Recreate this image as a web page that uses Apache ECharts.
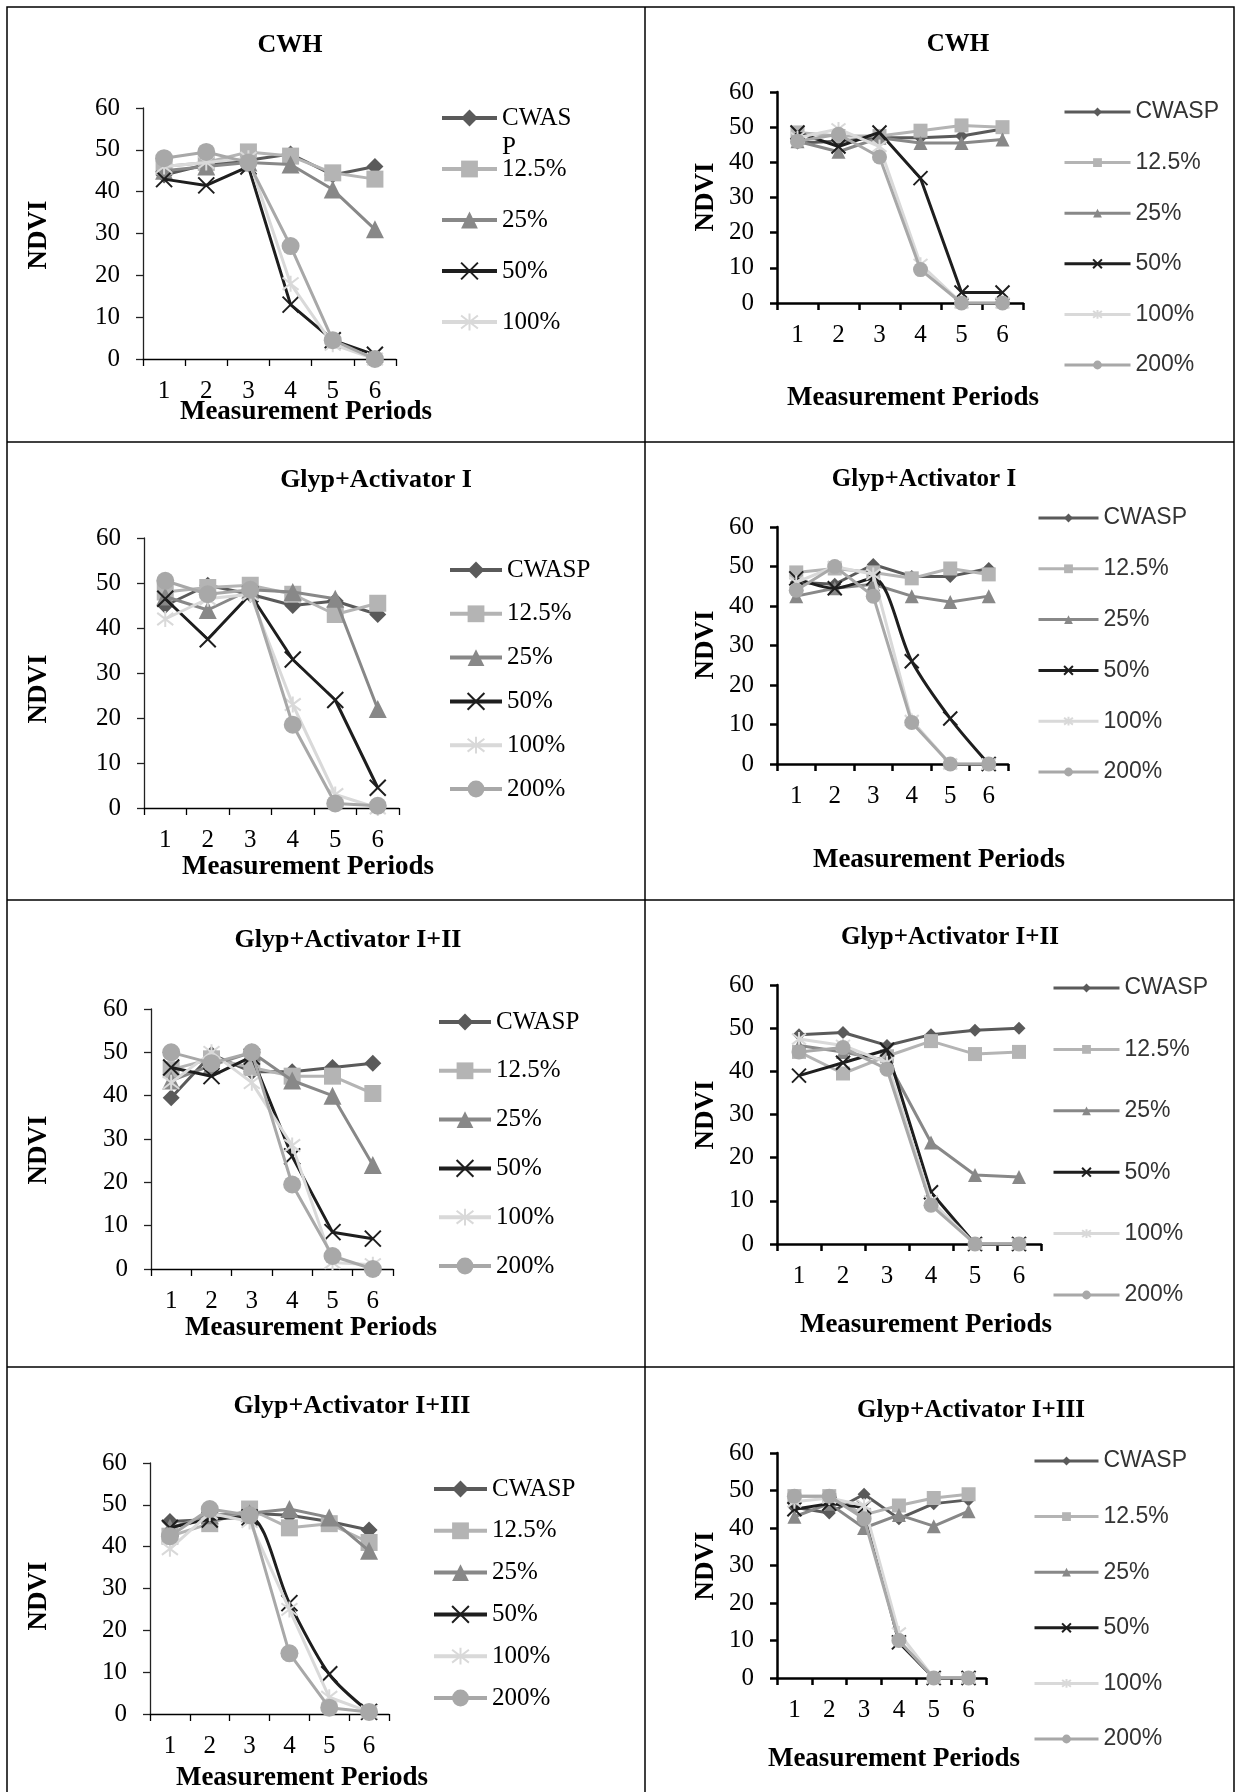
<!DOCTYPE html>
<html><head><meta charset="utf-8">
<script src="https://cdn.jsdelivr.net/npm/echarts@6/dist/echarts.min.js"></script>
<style>html,body{margin:0;padding:0;background:#fff}#c{width:1236px;height:1792px}</style>
</head><body><div id="c"></div>
<script>
// ---------- DATA ----------
const periods = ['1', '2', '3', '4', '5', '6'];
const treatments = ['CWASP', '12.5%', '25%', '50%', '100%', '200%'];
const panelTitles = ['CWH', 'CWH', 'Glyp+Activator I', 'Glyp+Activator I',
  'Glyp+Activator I+II', 'Glyp+Activator I+II', 'Glyp+Activator I+III', 'Glyp+Activator I+III'];
const xAxisName = 'Measurement Periods';
const yAxisName = 'NDVI';

// rows: CWASP, 12.5%, 25%, 50%, 100%, 200%
const cwhLeft = [
  [44, 46.5, 47.5, 49, 44, 46],
  [46, 47, 49.5, 48.5, 44.5, 43],
  [45, 46, 47, 46.5, 40.5, 31],
  [43, 41.5, 46, 13, 4.5, 1],
  [46, 47, 48, 18, 3.5, 0],
  [48, 49.5, 47, 27, 4.5, 0]
];
const cwhRight = [
  [45.5, 46, 47, 47, 47.5, 49.5],
  [48.5, 47.5, 47.5, 49, 50.5, 50],
  [46, 43, 47, 45.5, 45.5, 46.5],
  [48.5, 44.5, 48.5, 35.5, 3, 3],
  [47, 49.5, 44.5, 11, 0, 0],
  [46, 48, 41.5, 9.5, 0, 0]
];
const actILeft = [
  [45, 49.5, 47.5, 45, 46, 43],
  [48, 49, 49.5, 47.5, 43, 45.5],
  [47, 44, 48.5, 48, 46.5, 22],
  [46.5, 37.5, 47.5, 33, 24, 4.5],
  [42, 46.5, 47.5, 23, 3, 0],
  [50.5, 47.5, 48.5, 18.5, 1, 0.5]
];
const actIRight = [
  [46, 45.5, 50.5, 47.5, 47.5, 49.5],
  [48.5, 49.5, 48.5, 47, 49.5, 48],
  [42.5, 44.5, 45.5, 42.5, 41, 42.5],
  [47, 44.5, 47, 26, 11.5, 0],
  [46, 50, 48, 11, 0, 0],
  [44, 50, 42.5, 10.5, 0, 0]
];
const actIIILeft = [
  [39.5, 49.5, 45.5, 45.5, 46.5, 47.5],
  [46, 48.5, 46.5, 44.5, 44.5, 40.5],
  [43.5, 47, 50, 43.5, 40, 24],
  [46.5, 44.5, 49, 26, 8.5, 7],
  [43, 50, 43, 28.5, 1.5, 1],
  [50, 47.5, 50, 19.5, 3, 0]
];
const actIIIRight = [
  [48.5, 49, 46, 48.5, 49.5, 50],
  [44.5, 39.5, 43.5, 47, 44, 44.5],
  [46, 44.5, 42.5, 23.5, 16, 15.5],
  [39, 42, 45, 12, 0, 0],
  [47.5, 46, 42, 10, 0, 0],
  [44.5, 45.5, 40.5, 9, 0, 0]
];
const actI3Left = [
  [46, 46.5, 48, 47.5, 46, 44],
  [42.5, 45.5, 49, 44.5, 45.5, 41],
  [44.5, 47.5, 48, 49, 47, 39],
  [44.5, 46.5, 47, 26.5, 9.5, 0.5],
  [39.5, 48, 46, 25, 4, 0.5],
  [42.5, 49, 47.5, 14.5, 1.5, 0.5]
];
const actI3Right = [
  [45.5, 44, 49, 42.5, 46.5, 47.5],
  [48.5, 48.5, 43.5, 46, 48, 49],
  [43, 46.5, 40, 43.5, 40.5, 44.5],
  [45, 46.5, 45.5, 9.5, 0, 0],
  [47, 48, 46, 12, 0, 0],
  [48.5, 48.5, 42.5, 10, 0, 0]
];
const panelData = [cwhLeft, cwhRight, actILeft, actIRight, actIIILeft, actIIIRight, actI3Left, actI3Right];

// ---------- STYLE / LAYOUT ----------
const colors = ['#5a5a5a', '#b4b4b4', '#888888', '#1e1e1e', '#d9d9d9', '#a8a8a8'];
const symbols = ['diamond', 'rect', 'triangle',
  'path://M0,0L10,10M10,0L0,10',
  'path://M0,0L10,10M10,0L0,10M5,-1.5L5,11.5',
  'circle'];
const strokeOnly = [false, false, false, true, true, false];
const symSize = { L: [17, 17, 18, 16, 16, 18], R: [13, 14, 14, 14, 14, 15] };
const serif = '"Liberation Serif", "Times New Roman", serif';
const sans = '"Liberation Sans", Arial, sans-serif';

// grid: [left, top, right, bottom]
const layout = [
  { side: 'L', grid: [143, 108, 396, 359], title: [290, 45], ndvi: [39, 235], mp: [306, 412], lg: [440, 55, 118, 51] },
  { side: 'R', grid: [777, 92, 1023, 303], title: [958, 45], ndvi: [706, 197], mp: [913, 398], lg: [1063, 66, 112, 50.6] },
  { side: 'L', grid: [144, 538, 399, 808], title: [376, 480], ndvi: [39, 689], mp: [308, 867], lg: [448, 52, 570, 43.8] },
  { side: 'R', grid: [777, 527, 1008, 764], title: [924, 480], ndvi: [706, 645], mp: [939, 860], lg: [1037, 60, 518, 50.8] },
  { side: 'L', grid: [151, 1009, 393, 1269], title: [348, 940], ndvi: [39, 1150], mp: [311, 1328], lg: [437, 52, 1022, 48.8] },
  { side: 'R', grid: [777, 985, 1041, 1244], title: [950, 938], ndvi: [706, 1115], mp: [926, 1325], lg: [1052, 66, 988, 61.4] },
  { side: 'L', grid: [150, 1463, 389, 1714], title: [352, 1406], ndvi: [39, 1596], mp: [302, 1778], lg: [432, 53, 1489, 41.8] },
  { side: 'R', grid: [777, 1453, 986, 1678], title: [971, 1411], ndvi: [706, 1566], mp: [894, 1759], lg: [1033, 64, 1461, 55.6] }
];
const smoothed = { 3: [3], 6: [3] };

const grids = [], xAxes = [], yAxes = [], series = [], legends = [], graphics = [];

// table frame
const frame = { stroke: '#000', lineWidth: 1.5 };
graphics.push({ type: 'rect', silent: true, shape: { x: 7, y: 7, width: 1227, height: 1800 }, style: Object.assign({ fill: 'none' }, frame) });
graphics.push({ type: 'line', silent: true, shape: { x1: 645, y1: 7, x2: 645, y2: 1792 }, style: frame });
[442, 900, 1367].forEach(y => graphics.push({ type: 'line', silent: true, shape: { x1: 7, y1: y, x2: 1234, y2: y }, style: frame }));

layout.forEach((L, p) => {
  const isL = L.side === 'L';
  const [gl, gt, gr, gb] = L.grid;
  grids.push({ left: gl, top: gt, width: gr - gl, height: gb - gt, containLabel: false, outerBoundsMode: 'none' });
  const axW = isL ? 1.3 : 2.5;
  xAxes.push({
    type: 'category', gridIndex: p, data: periods, boundaryGap: true,
    axisLine: { show: true, lineStyle: { color: '#000', width: axW } },
    axisTick: { show: true, length: 7, inside: false, alignWithLabel: false, lineStyle: { color: '#000', width: axW } },
    axisLabel: { fontFamily: serif, fontSize: 25, color: '#000', margin: 20 },
    splitLine: { show: false }
  });
  yAxes.push({
    type: 'value', gridIndex: p, min: 0, max: 60, interval: 10,
    axisLine: { show: true, lineStyle: { color: isL ? '#222' : '#000', width: axW } },
    axisTick: { show: true, length: 7, inside: false, lineStyle: { color: isL ? '#222' : '#000', width: axW } },
    axisLabel: { fontFamily: serif, fontSize: 25, color: '#000', margin: 23 },
    splitLine: { show: false }
  });
  panelData[p].forEach((vals, k) => {
    series.push({
      type: 'line', name: treatments[k], xAxisIndex: p, yAxisIndex: p, data: vals,
      symbol: symbols[k], symbolSize: symSize[L.side][k], showSymbol: true,
      smooth: (smoothed[p] && smoothed[p].indexOf(k) >= 0) ? 0.3 : false,
      lineStyle: { color: colors[k], width: 3 },
      itemStyle: { color: colors[k], borderColor: colors[k], borderWidth: strokeOnly[k] ? 2 : 0 },
      emphasis: { disabled: true }, animation: false, z: 2 + k
    });
  });
  // legend
  const [lx, iw, firstY, spacing] = L.lg;
  const ih = isL ? 21 : 11;
  const lh = isL ? 25 : 23;
  const tStyle = { fontFamily: isL ? serif : sans, fontSize: isL ? 25 : 23, color: isL ? '#000' : '#333', lineHeight: lh };
  const base = {
    orient: 'vertical', left: lx, itemWidth: iw, itemHeight: ih, padding: 0, selectedMode: false,
    lineStyle: { width: isL ? 4 : 3 }, textStyle: tStyle
  };
  if (p === 0) {
    const lh2 = 29;
    legends.push(Object.assign({}, base, {
      top: firstY - 1.5 * lh2, data: ['CWASP'],
      formatter: () => ' \nCWAS\nP',
      textStyle: Object.assign({}, tStyle, { lineHeight: lh2 })
    }));
    legends.push(Object.assign({}, base, {
      top: firstY + spacing - lh / 2, data: treatments.slice(1, 5), itemGap: spacing - lh
    }));
  } else {
    legends.push(Object.assign({}, base, {
      top: firstY - lh / 2, data: treatments.slice(), itemGap: spacing - lh
    }));
  }
  // texts
  graphics.push({ type: 'text', silent: true, x: L.title[0], y: L.title[1],
    style: { text: panelTitles[p], font: 'bold ' + (isL ? 26 : 25) + 'px ' + serif, fill: '#000', align: 'center', verticalAlign: 'middle' } });
  graphics.push({ type: 'text', silent: true, x: L.mp[0], y: L.mp[1],
    style: { text: xAxisName, font: 'bold 27px ' + serif, fill: '#000', align: 'center', verticalAlign: 'middle' } });
  graphics.push({ type: 'text', silent: true, x: L.ndvi[0], y: L.ndvi[1], rotation: Math.PI / 2,
    style: { text: yAxisName, font: 'bold 27px ' + serif, fill: '#000', align: 'center', verticalAlign: 'middle' } });
});

const chart = echarts.init(document.getElementById('c'), null, { renderer: 'canvas' });
chart.setOption({
  backgroundColor: '#fff',
  animation: false,
  grid: grids, xAxis: xAxes, yAxis: yAxes, series: series, legend: legends, graphic: graphics
});
</script></body></html>
